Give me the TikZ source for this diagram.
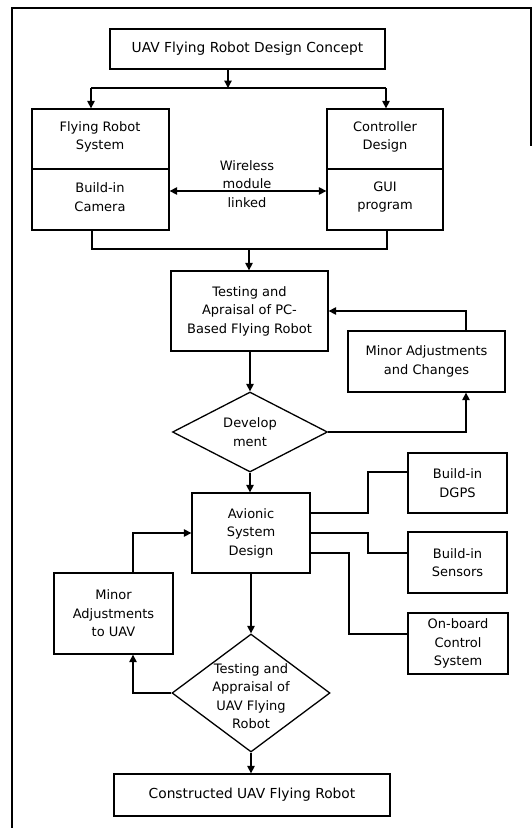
\documentclass[tikz,border=0pt]{standalone}
\usepackage{fontspec}
\setmainfont{DejaVu Sans}
\usetikzlibrary{arrows.meta,shapes.geometric,calc}
\begin{document}
\begin{tikzpicture}[x=1pt,y=-1pt,
  every node/.style={font=\fontsize{13}{18.5}\selectfont, inner sep=0pt, align=center},
  box/.style={draw, line width=1.3pt, rectangle},
  dia/.style={draw, line width=1.3pt, diamond, aspect=1.9},
  ln/.style={line width=1.3pt},
  arr/.style={line width=1.3pt, -{Triangle[length=7.5pt,width=7.5pt]}},
  darr/.style={line width=1.3pt, {Triangle[length=7.5pt,width=7.5pt]}-{Triangle[length=7.5pt,width=7.5pt]}},
  lbl/.style={font=\fontsize{13}{18.5}\selectfont},
  big/.style={font=\fontsize{13.8}{18.5}\selectfont}]
\useasboundingbox (0,0) rectangle (532,828);
% frame
\draw[ln] (12,828) -- (12,8) -- (531,8) -- (531,146);
% boxes
\node[box, big, minimum width=275, minimum height=40] (top) at (247.5,49) {UAV Flying Robot Design Concept};
\node[box, minimum width=137, minimum height=121] (frs) at (100.5,169.5) {};
\node[box, minimum width=116, minimum height=121] (ctl) at (385,169.5) {};
\draw[ln] (frs.west |- 0,169) -- (frs.east |- 0,169);
\draw[ln] (ctl.west |- 0,169) -- (ctl.east |- 0,169);
\node[lbl] (frst) at (100,137) {Flying Robot\\System};
\node[lbl] (frsb) at (100,197) {Build-in\\Camera};
\node[lbl] (ctlt) at (385,137) {Controller\\Design};
\node[lbl] (ctlb) at (385,197) {GUI\\program};
\node[lbl] (wl) at (247,184) {Wireless\\module\\linked};
\node[box, minimum width=157, minimum height=80] (tst) at (249.5,311) {Testing and\\Apraisal of PC-\\Based Flying Robot};
\node[dia, minimum width=155, minimum height=80] (dev) at (250,432) {Develop\\ment};
\node[box, minimum width=157, minimum height=61] (mac) at (426.5,361.5) {Minor Adjustments\\and Changes};
\node[box, minimum width=118, minimum height=80] (avi) at (251,533) {Avionic\\System\\Design};
\node[box, minimum width=99, minimum height=60] (dgps) at (457.5,483) {Build-in\\DGPS};
\node[box, minimum width=99, minimum height=61] (sen) at (457.5,562.5) {Build-in\\Sensors};
\node[box, minimum width=100, minimum height=61] (obc) at (458,643.5) {On-board\\Control\\System};
\node[box, minimum width=119, minimum height=81] (mau) at (113.5,613.5) {Minor\\Adjustments\\to UAV};
\node[dia, minimum width=158, minimum height=118] (tua) at (251,693) {};
\node[lbl] (tuat) at (251,696) {Testing and\\Appraisal of\\UAV Flying\\Robot};
\node[box, big, minimum width=276, minimum height=42] (con) at (252,795) {Constructed UAV Flying Robot};
% connectors
\coordinate (s1) at (228,88);
\draw[arr] (228,69) -- (s1);
\draw[ln] (91,88) -- (386,88);
\draw[arr] (91,88) -- (frs.north -| 91,0);
\draw[arr] (386,88) -- (ctl.north -| 386,0);
\draw[darr] (frs.east |- 0,191) -- (ctl.west |- 0,191);
\draw[ln] (frs.south -| 92,0) -- (92,249) -- (387,249) -- (ctl.south -| 387,0);
\draw[arr] (249,249) -- (tst.north -| 249,0);
\draw[arr] (tst.south -| 250,0) -- (dev.north);
\draw[arr] (dev.east) -- (466,432) -- (mac.south -| 466,0);
\draw[arr] (mac.north -| 466,0) -- (466,311) -- (tst.east |- 0,311);
\draw[arr] (dev.south) -- (avi.north -| 250,0);
\draw[ln] (avi.east |- 0,513) -- (368,513) -- (368,472) -- (dgps.west |- 0,472);
\draw[ln] (avi.east |- 0,533) -- (368,533) -- (368,553) -- (sen.west |- 0,553);
\draw[ln] (avi.east |- 0,553) -- (349,553) -- (349,634) -- (obc.west |- 0,634);
\draw[arr] (mau.north -| 133,0) -- (133,533) -- (avi.west |- 0,533);
\draw[arr] (avi.south -| 251,0) -- (tua.north);
\draw[arr] (tua.west) -- (133,693) -- (mau.south -| 133,0);
\draw[arr] (tua.south) -- (con.north -| 251,0);
\end{tikzpicture}
\end{document}
